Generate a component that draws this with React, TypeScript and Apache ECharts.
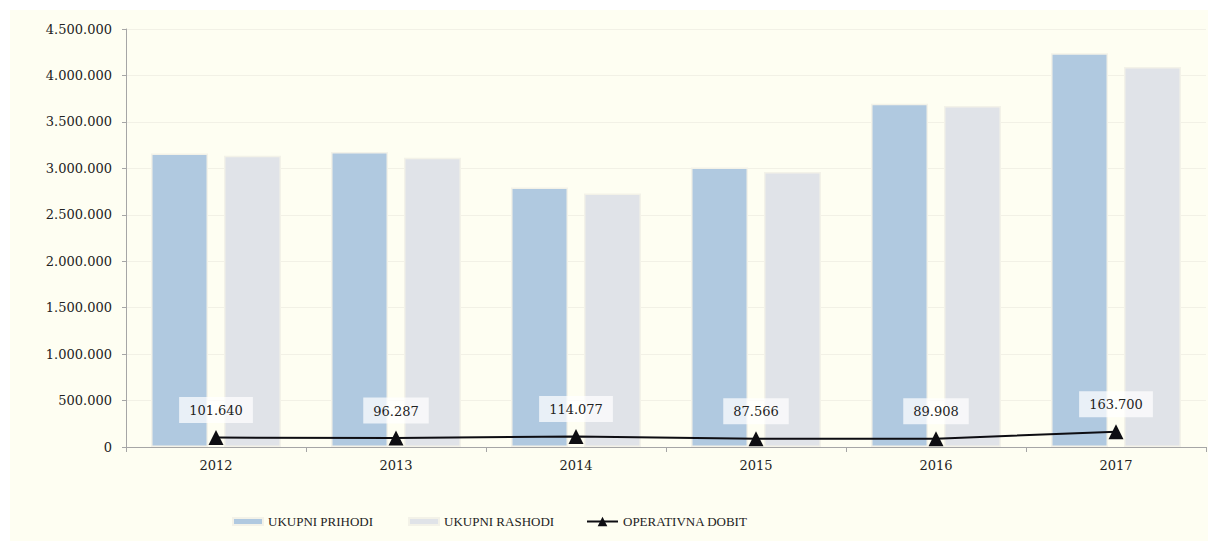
import React, { useEffect, useRef } from "react";
import * as echarts from "echarts";

const categories = ["2012", "2013", "2014", "2015", "2016", "2017"];
const prihodi = [3160000, 3175000, 2795000, 3010000, 3695000, 4240000];
const rashodi = [3135000, 3115000, 2730000, 2960000, 3670000, 4090000];
const dobit = [101640, 96287, 114077, 87566, 89908, 163700];
const seriesNames = ["UKUPNI PRIHODI", "UKUPNI RASHODI", "OPERATIVNA DOBIT"];

const fmt = (v: number) =>
  Math.round(v)
    .toString()
    .replace(/\B(?=(\d{3})+(?!\d))/g, ".");

const FONT = "DejaVu Serif";

export default function App() {
  const ref = useRef<HTMLDivElement>(null);
  useEffect(() => {
    if (!ref.current) return;
    const chart = echarts.init(ref.current, null, { renderer: "svg" });
    const legendText = { fontFamily: "Liberation Serif", fontSize: 13, color: "#222" };
    chart.setOption({
      animation: false,
      backgroundColor: "#FEFEF2",
      textStyle: { fontFamily: FONT },
      grid: { left: 116, top: 19, width: 1080, height: 418 },
      legend: [
        {
          left: 217,
          top: 500,
          data: [seriesNames[0]],
          itemWidth: 30,
          itemHeight: 7,
          itemGap: 4,
          textStyle: legendText,
          icon: "rect",
        },
        {
          left: 393,
          top: 500,
          data: [seriesNames[1]],
          itemWidth: 30,
          itemHeight: 7,
          textStyle: legendText,
          icon: "rect",
        },
        {
          left: 571,
          top: 500,
          data: [seriesNames[2]],
          itemWidth: 31,
          itemHeight: 12,
          textStyle: legendText,
        },
      ],
      xAxis: {
        type: "category",
        data: categories,
        boundaryGap: true,
        axisLine: { lineStyle: { color: "#A6A6A6", width: 1 } },
        axisTick: { show: true, length: 5, lineStyle: { color: "#A6A6A6" } },
        axisLabel: { fontFamily: FONT, fontSize: 13, color: "#222", margin: 12 },
      },
      yAxis: {
        type: "value",
        min: 0,
        max: 4500000,
        interval: 500000,
        axisLine: { show: true, lineStyle: { color: "#A6A6A6" } },
        axisTick: { show: true, length: 4, lineStyle: { color: "#A6A6A6" } },
        axisLabel: {
          fontFamily: FONT,
          fontSize: 13,
          color: "#222",
          margin: 14,
          formatter: (v: number) => fmt(v),
        },
        splitLine: { lineStyle: { color: "#F2F1E6", width: 1 } },
      },
      series: [
        {
          name: seriesNames[0],
          type: "bar",
          data: prihodi,
          barWidth: 57,
          barGap: "28%",
          itemStyle: { color: "#B0C9E0", borderColor: "#F3F2E8", borderWidth: 1.5 },
        },
        {
          name: seriesNames[1],
          type: "bar",
          data: rashodi,
          barWidth: 57,
          barGap: "28%",
          itemStyle: { color: "#E0E3E8", borderColor: "#F3F2E8", borderWidth: 1.5 },
        },
        {
          name: seriesNames[2],
          type: "line",
          data: dobit,
          symbol: "triangle",
          symbolSize: 15,
          lineStyle: { color: "#0D0D12", width: 2 },
          itemStyle: { color: "#0D0D12" },
          z: 5,
          label: {
            show: true,
            position: "top",
            distance: 7,
            fontFamily: FONT,
            fontSize: 13,
            color: "#222",
            backgroundColor: "rgba(255,255,255,0.72)",
            padding: [7, 10, 6, 10],
            formatter: (p: any) => fmt(p.value),
          },
        },
      ],
    });
    return () => chart.dispose();
  }, []);
  return (
    <div
      ref={ref}
      style={{ position: "absolute", left: 10, top: 10, width: 1198, height: 531 }}
    />
  );
}
